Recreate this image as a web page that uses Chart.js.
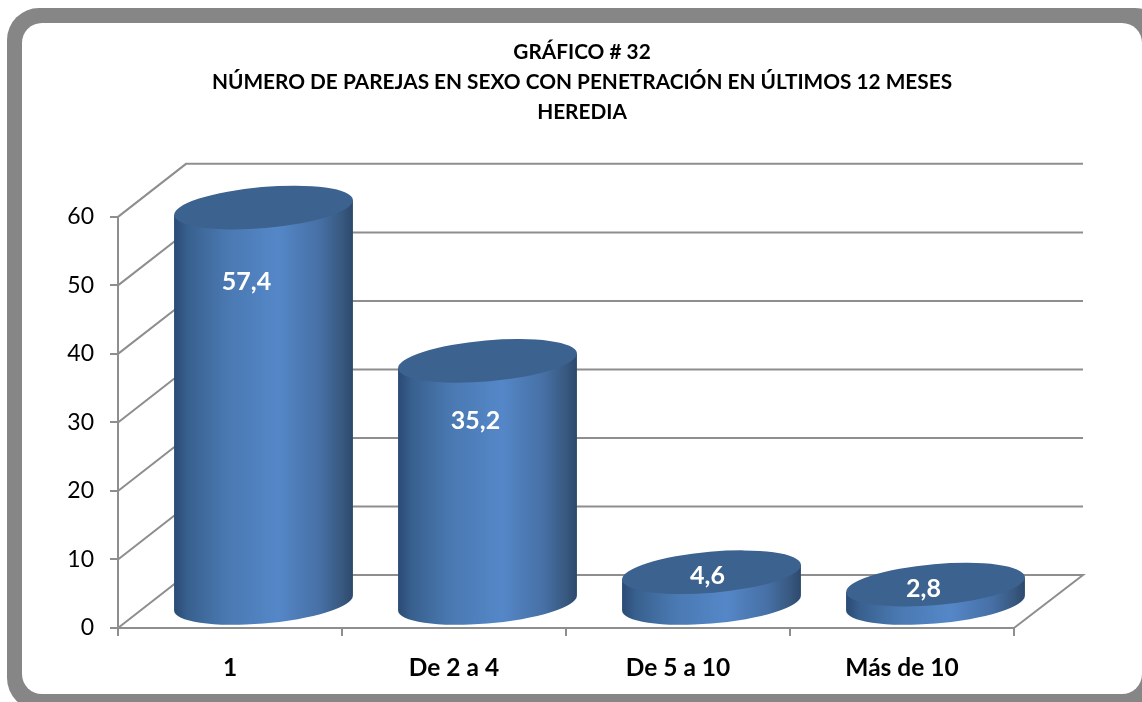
<!DOCTYPE html>
<html>
<head>
<meta charset="utf-8">
<style>html,body{margin:0;padding:0;background:#fff}canvas{display:block}</style>
<script src="https://cdn.jsdelivr.net/npm/chart.js@4"></script>
</head>
<body>
<canvas id="c" width="1142" height="702"></canvas>
<script>
const titleLines = ["GRÁFICO # 32", "NÚMERO DE PAREJAS EN SEXO CON PENETRACIÓN EN ÚLTIMOS 12 MESES", "HEREDIA"];
const categories = ["1", "De 2 a 4", "De 5 a 10", "Más de 10"];
const values = [57.4, 35.2, 4.6, 2.8];
const yTicks = [0, 10, 20, 30, 40, 50, 60];

const FONT = "Lato, 'Open Sans', sans-serif";
const GREY = "#8e8e8e";
const DEPTH = { x: 68, y: 53 };
const BAR_SHIFT = { x: 33.5, y: 24 };
const LABEL_OFFSET = [[-17, 74], [-12, 60], [-4, 4], [-12, 4]];

function roundRect(ctx, x, y, w, h, r) {
  ctx.beginPath();
  ctx.roundRect(x, y, w, h, r);
}

const framePlugin = {
  id: "frame",
  beforeDraw(chart) {
    const ctx = chart.ctx;
    ctx.save();
    ctx.fillStyle = "#fff";
    ctx.fillRect(0, 0, chart.width, chart.height);
    ctx.fillStyle = "#868686";
    roundRect(ctx, 7, 8, 1160, 702, 32);
    ctx.fill();
    ctx.fillStyle = "#fff";
    roundRect(ctx, 22, 23, 1120, 671, 20);
    ctx.fill();
    ctx.restore();
  }
};

const wallPlugin = {
  id: "wall",
  beforeDatasetsDraw(chart) {
    const ctx = chart.ctx, y = chart.scales.y, a = chart.chartArea;
    ctx.save();
    ctx.strokeStyle = GREY;
    ctx.lineWidth = 2;
    yTicks.forEach(t => {
      const py = y.getPixelForValue(t);
      ctx.beginPath();
      ctx.moveTo(a.left, py);
      ctx.lineTo(a.left + DEPTH.x, py - DEPTH.y);
      ctx.lineTo(a.right + DEPTH.x + 1, py - DEPTH.y);
      if (t === 0) ctx.lineTo(a.right, py);
      ctx.stroke();
    });
    ctx.restore();
  }
};

const cylinderPlugin = {
  id: "cylinders",
  afterDatasetsDraw(chart) {
    const ctx = chart.ctx;
    const meta = chart.getDatasetMeta(0);
    const theta = -0.087, t0 = 0.02;
    meta.data.forEach((bar, i) => {
      const w = bar.width;
      const cx = bar.x + BAR_SHIFT.x;
      const baseY = bar.base - BAR_SHIFT.y;
      const topY = baseY - (bar.base - bar.y) * 1.008;
      const a = w / 2 * 1.008, b = 20.5;
      const ex = a * Math.cos(t0) * Math.cos(theta) - b * Math.sin(t0) * Math.sin(theta);
      const ey = a * Math.cos(t0) * Math.sin(theta) + b * Math.sin(t0) * Math.cos(theta);

      const g = ctx.createLinearGradient(cx - ex, 0, cx + ex, 0);
      g.addColorStop(0, "#2a4a74");
      g.addColorStop(0.08, "#39618f");
      g.addColorStop(0.3, "#4a79b2");
      g.addColorStop(0.58, "#5587c8");
      g.addColorStop(0.82, "#466fa4");
      g.addColorStop(0.94, "#38587f");
      g.addColorStop(1, "#2d496d");

      ctx.save();
      ctx.fillStyle = g;
      ctx.beginPath();
      ctx.moveTo(cx + ex, topY + ey);
      ctx.lineTo(cx + ex, baseY + ey);
      ctx.ellipse(cx, baseY, a, b, theta, t0, t0 + Math.PI, false);
      ctx.lineTo(cx - ex, topY - ey);
      ctx.closePath();
      ctx.fill();

      ctx.fillStyle = "#3c628f";
      ctx.beginPath();
      ctx.ellipse(cx, topY, a, b, theta, 0, Math.PI * 2);
      ctx.fill();

      ctx.fillStyle = "#fff";
      ctx.font = "bold 25px " + FONT;
      ctx.textAlign = "center";
      ctx.textBaseline = "middle";
      const off = LABEL_OFFSET[i];
      ctx.fillText(String(values[i]).replace(".", ","), cx + off[0], topY + off[1]);
      ctx.restore();
    });
  }
};

new Chart(document.getElementById("c"), {
  type: "bar",
  data: {
    labels: categories,
    datasets: [{
      data: values,
      backgroundColor: "rgba(0,0,0,0)",
      barPercentage: 0.795,
      categoryPercentage: 1
    }]
  },
  plugins: [framePlugin, wallPlugin, cylinderPlugin],
  options: {
    responsive: false,
    animation: false,
    layout: { padding: { left: 22, right: 0, top: 37, bottom: 8 } },
    plugins: {
      legend: { display: false },
      tooltip: { enabled: false },
      title: {
        display: true,
        text: titleLines,
        color: "#000",
        font: { family: FONT, size: 20.8, weight: "bold", lineHeight: 1.44 },
        padding: { top: 0, bottom: 90 }
      }
    },
    scales: {
      x: {
        grid: { drawOnChartArea: false, color: GREY, lineWidth: 2, tickLength: 8, offset: true },
        border: { color: GREY, width: 2 },
        ticks: { color: "#000", font: { family: FONT, size: 24.5, weight: "bold" }, padding: 17, maxRotation: 0 },
        afterFit(s) { s.height = 66; }
      },
      y: {
        min: 0, max: 60,
        afterBuildTicks(s) { s.ticks = yTicks.map(v => ({ value: v })); },
        grid: { drawOnChartArea: false, color: GREY, lineWidth: 2, tickLength: 8 },
        border: { color: GREY, width: 2 },
        ticks: { color: "#000", font: { family: FONT, size: 23 }, padding: 16 },
        afterFit(s) { s.width = 96; }
      },
      spacer: {
        type: "linear",
        position: "right",
        display: true,
        grid: { display: false },
        border: { display: false },
        ticks: { display: false },
        afterFit(s) { s.width = 128; }
      }
    }
  }
});
</script>
</body>
</html>
